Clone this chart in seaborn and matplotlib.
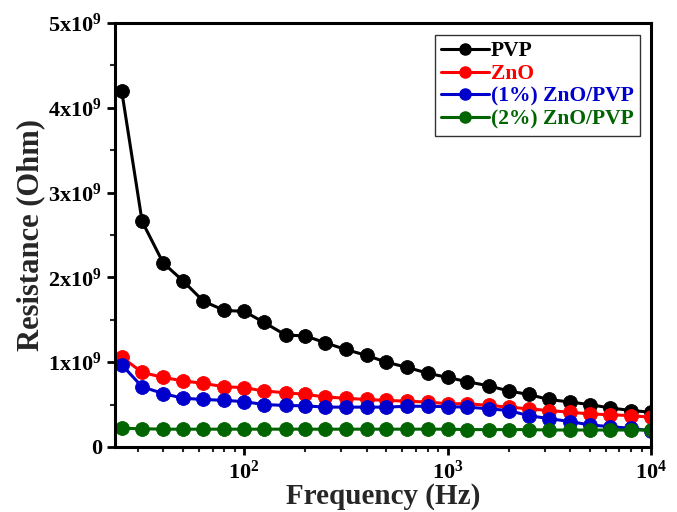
import pandas as pd
import numpy as np
import matplotlib.pyplot as plt
import matplotlib.ticker as mticker
import seaborn as sns

sns.set_theme(style="ticks")
plt.rcParams['font.family'] = ['Liberation Serif', 'DejaVu Serif']
plt.rcParams['font.weight'] = 'bold'
plt.rcParams['mathtext.fontset'] = 'custom'
plt.rcParams['mathtext.rm'] = 'Liberation Serif:bold'
plt.rcParams['mathtext.it'] = 'Liberation Serif:bold'
plt.rcParams['mathtext.bf'] = 'Liberation Serif:bold'

freq = [25, 31.5, 40, 50, 63, 80, 100, 125, 160, 200, 250, 315, 400, 500,
        630, 800, 1000, 1250, 1600, 2000, 2500, 3150, 4000, 5000, 6300, 8000, 10000]

# resistance in units of 1e9 Ohm
pvp = [4.20, 2.66, 2.17, 1.96, 1.72, 1.61, 1.60, 1.47, 1.32, 1.31, 1.23, 1.15, 1.08, 1.00,
       0.94, 0.87, 0.82, 0.77, 0.72, 0.66, 0.62, 0.56, 0.53, 0.50, 0.46, 0.43, 0.41]
zno = [1.06, 0.88, 0.82, 0.78, 0.75, 0.71, 0.70, 0.66, 0.64, 0.62, 0.59, 0.575, 0.56, 0.55,
       0.54, 0.53, 0.51, 0.51, 0.49, 0.47, 0.45, 0.43, 0.41, 0.39, 0.38, 0.37, 0.35]
zno_pvp1 = [0.97, 0.71, 0.63, 0.575, 0.56, 0.55, 0.535, 0.50, 0.49, 0.485, 0.47, 0.47, 0.47, 0.47,
            0.48, 0.48, 0.475, 0.47, 0.45, 0.43, 0.37, 0.335, 0.30, 0.26, 0.24, 0.22, 0.19]
zno_pvp2 = [0.22, 0.215, 0.21, 0.21, 0.21, 0.21, 0.21, 0.21, 0.21, 0.21, 0.21, 0.21, 0.21, 0.21,
            0.21, 0.21, 0.21, 0.205, 0.205, 0.205, 0.205, 0.20, 0.20, 0.20, 0.20, 0.20, 0.20]

samples = ['PVP', 'ZnO', '(1%) ZnO/PVP', '(2%) ZnO/PVP']
colors = ['black', 'red', '#0000cc', '#006400']

df = pd.concat([
    pd.DataFrame({'Frequency': freq, 'Resistance': np.array(v) * 1e9, 'Sample': s})
    for s, v in zip(samples, [pvp, zno, zno_pvp1, zno_pvp2])
])

fig = plt.figure(figsize=(6.77, 5.12), dpi=100)
ax = fig.add_axes([0.170, 0.127, 0.7916, 0.828])

sns.lineplot(data=df, x='Frequency', y='Resistance', hue='Sample', hue_order=samples,
             palette=colors, marker='o', markersize=10, markeredgewidth=0.6,
             linewidth=2.2, ax=ax, legend=False)
for line, c in zip(ax.lines, colors):
    line.set_markeredgecolor(c)

ax.set_xscale('log')
ax.set_xlim(23.2, 1e4)
ax.set_ylim(0, 5e9)

ax.xaxis.set_major_locator(mticker.FixedLocator([100, 1000, 10000]))
ax.xaxis.set_major_formatter(mticker.FuncFormatter(lambda v, p: '10$^{%d}$' % round(np.log10(v))))
ax.xaxis.set_minor_locator(mticker.LogLocator(base=10, subs=np.arange(2, 10)))
ax.xaxis.set_minor_formatter(mticker.NullFormatter())

ax.yaxis.set_major_locator(mticker.MultipleLocator(1e9))
ax.yaxis.set_minor_locator(mticker.MultipleLocator(0.5e9))
ax.yaxis.set_major_formatter(mticker.FuncFormatter(
    lambda v, p: '0' if v == 0 else '%dx10$^{9}$' % round(v / 1e9)))

for sp in ax.spines.values():
    sp.set_linewidth(2.2)
    sp.set_color('black')

ax.tick_params(which='major', direction='out', length=6, width=2, labelsize=16,
               colors='black', top=False, right=False)
ax.tick_params(which='minor', direction='out', length=3.5, width=1.5, top=False, right=False)

ax.set_xlabel('Frequency (Hz)', fontsize=21, fontweight='bold', labelpad=0)
ax.set_ylabel('Resistance (Ohm)', fontsize=22, fontweight='bold', labelpad=2)

handles = [plt.Line2D([], [], color=c, marker='o', markersize=8, linewidth=2.2) for c in colors]
leg = ax.legend(handles, samples, loc='upper right', bbox_to_anchor=(0.98, 0.972),
                fontsize=15.5, frameon=True, fancybox=False, edgecolor='black',
                handlelength=2.2, handletextpad=0.1, labelspacing=0.12, borderpad=0.3,
                borderaxespad=0)
leg.get_frame().set_linewidth(1.0)
for t, c in zip(leg.get_texts(), colors):
    t.set_color(c)
    t.set_fontweight('bold')

plt.savefig('out.png', dpi=100)
